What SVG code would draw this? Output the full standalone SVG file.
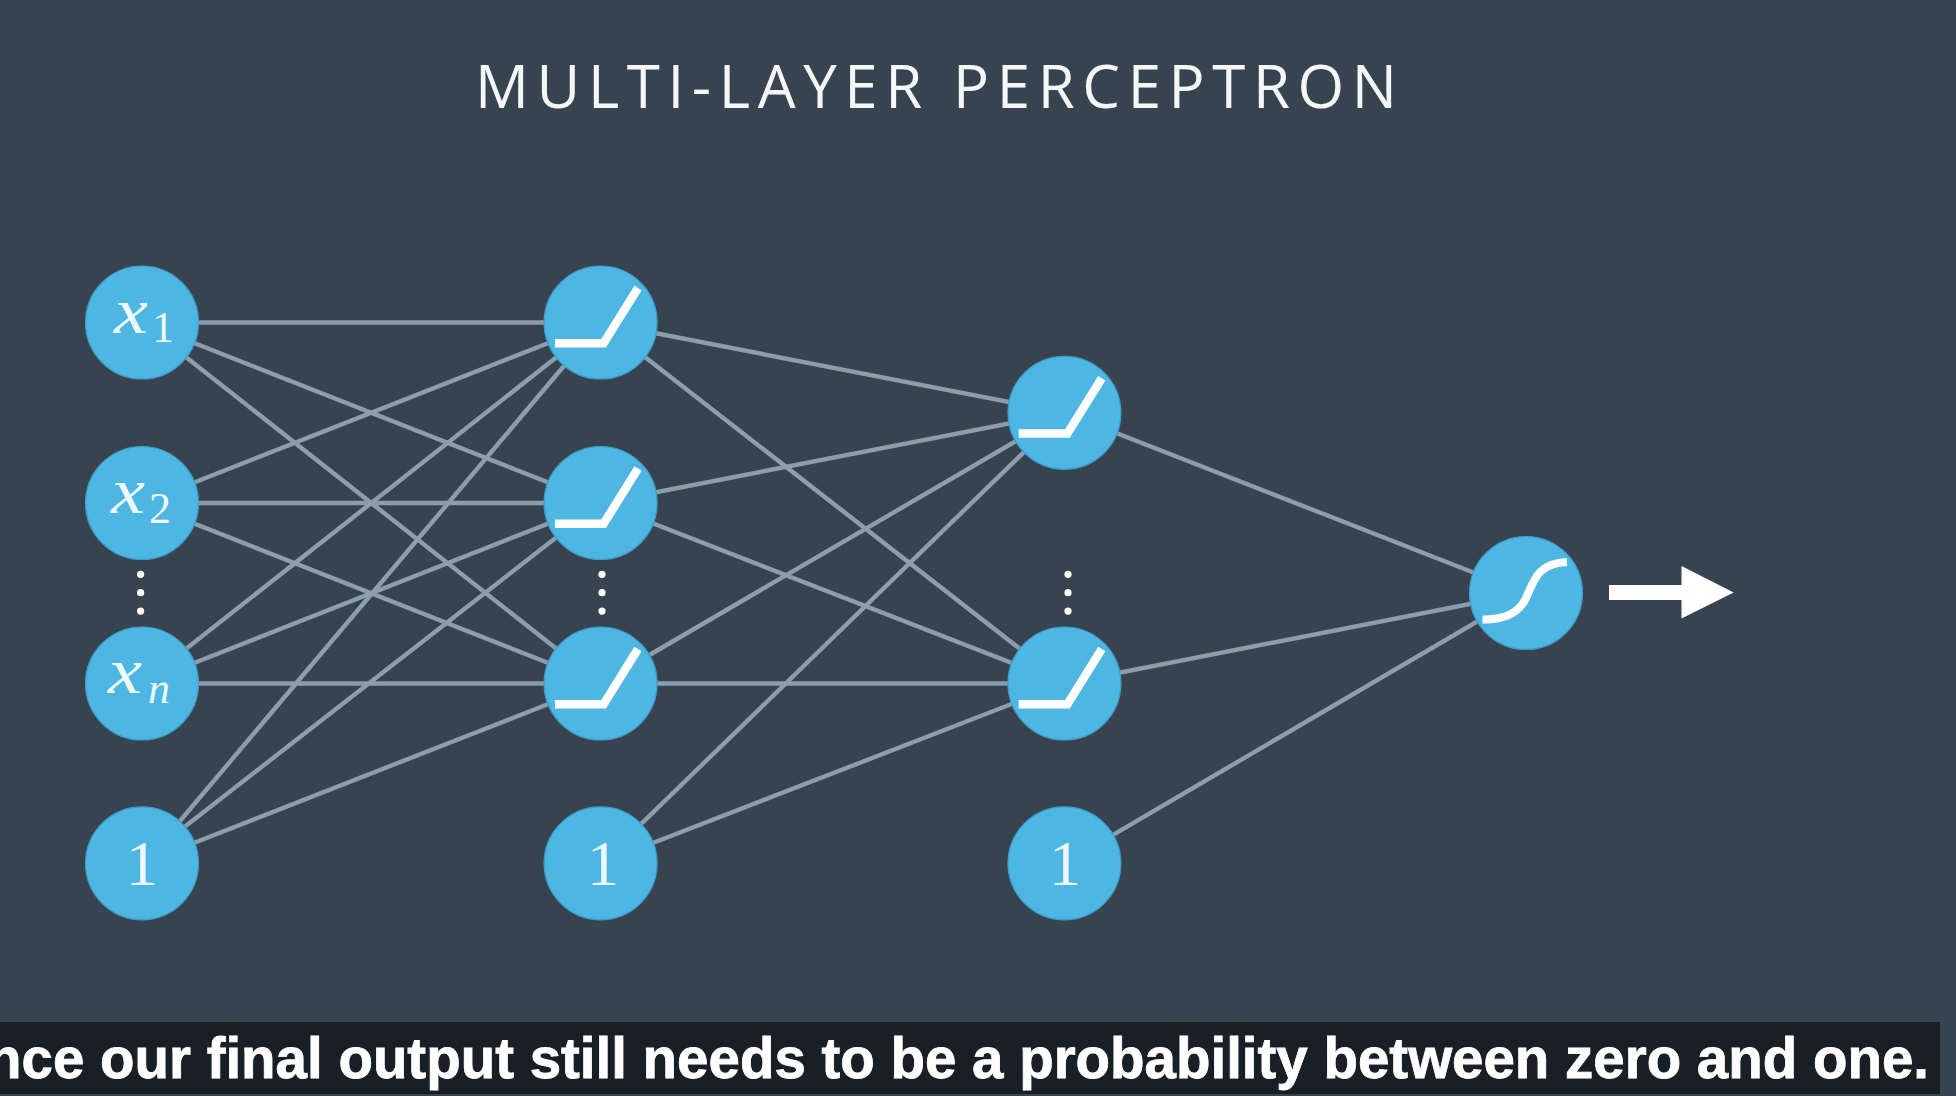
<svg xmlns="http://www.w3.org/2000/svg" width="1956" height="1096" viewBox="0 0 1956 1096">
<style>
.n{fill:#4db6e2;stroke:#3e9cc6;stroke-width:1.2}
.e{stroke:#8c9dae;stroke-width:4.4;fill:none}
.g{stroke:#fff;fill:none;stroke-width:8.5;stroke-linejoin:miter}
.m{font-family:"Liberation Serif",serif;font-style:italic;fill:#eef9fe}
.b{font-size:66px}
.s{font-size:44px}
.d{font-family:"Liberation Serif",serif;fill:#eef9fe;font-size:64px;text-anchor:middle}
.dot{fill:#fff}
</style>
<defs>
<path id="relu" class="g" d="M-45.7 20.8H3L37.4-34.5"/>
<g id="dots"><circle class="dot" cy="-18.4" r="3.6"/><circle class="dot" r="3.6"/><circle class="dot" cy="18.4" r="3.6"/></g>
</defs>
<rect width="1956" height="1096" fill="#37434f"/>
<text id="title" x="475" y="108" textLength="922" lengthAdjust="spacing" font-family="'Open Sans',sans-serif" font-weight="400" font-size="60" fill="#f4f6f7">MULTI-LAYER PERCEPTRON</text>
<g id="connectors">
<path class="e" d="M142 322.5L600.6 322.5M142 322.5L600.6 503M142 322.5L600.6 683.5"/>
<path class="e" d="M142 503L600.6 322.5M142 503L600.6 503M142 503L600.6 683.5"/>
<path class="e" d="M142 683.5L600.6 322.5M142 683.5L600.6 503M142 683.5L600.6 683.5"/>
<path class="e" d="M142 866L600.6 322.5M142 860L600.6 503M142 863.3L600.6 683.5"/>
<path class="e" d="M600.6 322.5L1064.4 412.8M600.6 322.5L1064.4 683.5"/>
<path class="e" d="M600.6 503L1064.4 412.8M600.6 503L1064.4 683.5"/>
<path class="e" d="M600.6 683.5L1064.4 412.8M600.6 683.5L1064.4 683.5"/>
<path class="e" d="M600.6 863.3L1064.4 412.8M600.6 863.3L1064.4 683.5"/>
<path class="e" d="M1064.4 412.8L1526 593M1064.4 683.5L1526 593M1064.4 863.3L1526 593"/>
</g>
<g id="input-x1"><circle class="n" cx="142" cy="322.5" r="56.5"/><text class="m b" x="114" y="333" textLength="34" lengthAdjust="spacingAndGlyphs">x</text><text class="d" style="font-size:44px" x="163" y="342">1</text></g>
<g id="input-x2"><circle class="n" cx="142" cy="503" r="56.5"/><text class="m b" x="111" y="513" textLength="34" lengthAdjust="spacingAndGlyphs">x</text><text class="d" style="font-size:44px" x="160" y="523">2</text></g>
<g id="input-xn"><circle class="n" cx="142" cy="683.5" r="56.5"/><text class="m b" x="108" y="693" textLength="34" lengthAdjust="spacingAndGlyphs">x</text><text class="m s" x="148" y="703">n</text></g>
<g id="input-bias"><circle class="n" cx="142" cy="863.3" r="56.5"/><text class="d" x="142" y="885">1</text></g>
<g id="hidden1-1"><circle class="n" cx="600.6" cy="322.5" r="56.5"/><use href="#relu" x="600.6" y="322.5"/></g>
<g id="hidden1-2"><circle class="n" cx="600.6" cy="503" r="56.5"/><use href="#relu" x="600.6" y="503"/></g>
<g id="hidden1-3"><circle class="n" cx="600.6" cy="683.5" r="56.5"/><use href="#relu" x="600.6" y="683.5"/></g>
<g id="hidden1-bias"><circle class="n" cx="600.6" cy="863.3" r="56.5"/><text class="d" x="603" y="885">1</text></g>
<g id="hidden2-1"><circle class="n" cx="1064.4" cy="412.8" r="56.5"/><use href="#relu" x="1064.4" y="412.8"/></g>
<g id="hidden2-2"><circle class="n" cx="1064.4" cy="683.5" r="56.5"/><use href="#relu" x="1064.4" y="683.5"/></g>
<g id="hidden2-bias"><circle class="n" cx="1064.4" cy="863.3" r="56.5"/><text class="d" x="1065" y="885">1</text></g>
<g id="output"><circle class="n" cx="1526" cy="593" r="56.5"/><path class="g" style="stroke-width:8" d="M1482.5 619.4C1500 620 1517 615 1525 600C1533 585 1535 563 1567 562"/></g>
<g id="ellipses"><use href="#dots" x="140.6" y="592.7"/><use href="#dots" x="602" y="592.7"/><use href="#dots" x="1068" y="592.7"/></g>
<g id="output-arrow"><path fill="#fff" d="M1609 585H1681.5V566L1733.7 592.6L1681.5 618.5V600H1609Z"/></g>
<rect x="0" y="1022" width="1940" height="72" fill="#182025"/>
<text id="caption" x="-13" y="1078" textLength="1942" lengthAdjust="spacingAndGlyphs" font-family="'Liberation Sans',Arial,sans-serif" font-weight="700" font-size="57" fill="#fff" stroke="#fff" stroke-width="0.8">nce our final output still needs to be a probability between zero and one.</text>
</svg>
